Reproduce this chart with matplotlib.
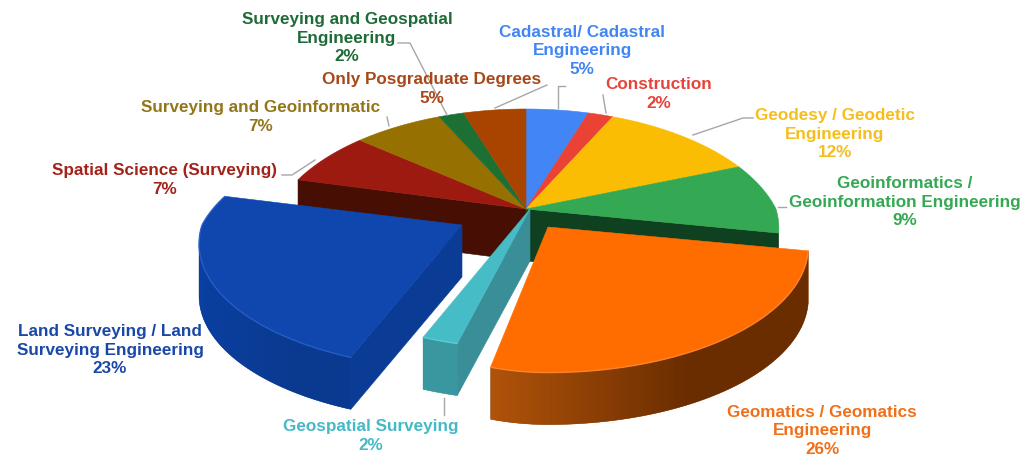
import numpy as np
import matplotlib
matplotlib.use("Agg")
import matplotlib.pyplot as plt
from matplotlib.patches import Polygon
from matplotlib.colors import to_rgb

# ---- data ----
categories = ["Cadastral/ Cadastral\nEngineering", "Construction", "Geodesy / Geodetic\nEngineering",
              "Geoinformatics /\nGeoinformation Engineering", "Geomatics / Geomatics\nEngineering",
              "Geospatial Surveying", "Land Surveying / Land\nSurveying Engineering",
              "Spatial Science (Surveying)", "Surveying and Geoinformatic",
              "Surveying and Geospatial\nEngineering", "Only Posgraduate Degrees"]
values = [5, 2, 12, 9, 26, 2, 23, 7, 7, 2, 5]

# ---- style ----
top_colors = ["#4285F4", "#EA4335", "#FBBC04", "#34A853", "#FF6D01", "#46BDC6",
              "#0F47AE", "#9C1A10", "#967000", "#1D7034", "#A84300"]
text_colors = ["#4285F4", "#E5443A", "#F5BE1E", "#34A853", "#F0701A", "#46B9C6",
               "#1A48A8", "#A3231A", "#94761A", "#1F6B38", "#A8481A"]
label_pos = [(582, 51), (659, 94), (835, 134), (905, 202), (822, 431), (371, 436),
             (110, 350), (165, 180), (261, 117), (347, 38), (432, 89)]
leaders = [[(565, 86), (558, 86), (558, 108)], [(603, 95), (606, 113)],
           [(753, 118), (743, 118), (693, 135)], [(778, 207), (786, 207)],
           [(444, 398), (444, 415)], [(282, 175), (292, 175), (315, 160)],
           [(387, 117), (389, 126)], [(398, 43), (410, 43), (447, 115)],
           [(547, 85), (495, 108)]]
# exploded slices: apex, x-scales (right, left of apex), y-scale, rim colours, wall, highlight
exploded = {4: dict(apex=(548, 227), sx=1.03, sxl=0.79, sy=0.99, rim=("#B0530A", "#6A2D00"), wall="#8A3D00", hi="#FF8A33"),
            5: dict(apex=(530, 209), sx=1.0, sxl=1.0, sy=0.95, rim=("#3A97A0", "#3A97A0"), wall="#3A8E98", hi="#5CD0DA"),
            6: dict(apex=(462, 225), sx=1.0, sxl=1.04, sy=0.98, rim=("#0B3FA0", "#0A3A90"), wall="#0A3C96", hi="#2A62C8")}
CENTER = (526, 209)
RX, RY, K_BACK, K_FRONT, DEPTH = 250, 125, 0.25, 0.15, 52


def project(theta, apex=CENTER, sx=1.0, sxl=1.0, sy=1.0):
    X, Z = np.sin(theta), np.cos(theta)
    s = np.where(Z > 0, 1 / (1 + K_BACK * Z), 1 / (1 + K_FRONT * Z))
    return apex[0] + RX * X * s * np.where(X > 0, sx, sxl), apex[1] - RY * Z * s * sy


plt.rcParams["font.family"] = ["Liberation Sans", "DejaVu Sans"]
fig = plt.figure(figsize=(10.28, 4.58), dpi=100)
ax = fig.add_axes([0, 0, 1, 1])
ax.set_xlim(0, 1028)
ax.set_ylim(458, 0)
ax.axis("off")

edges = np.cumsum([0] + values) / sum(values) * 2 * np.pi


def top(i, apex=CENTER, sx=1.0, sxl=1.0, sy=1.0, z=2):
    th = np.linspace(edges[i], edges[i + 1], 60)
    x, y = project(th, apex, sx, sxl, sy)
    pts = np.column_stack([np.r_[apex[0], x], np.r_[apex[1], y]])
    ax.add_patch(Polygon(pts, closed=True, fc=top_colors[i], ec=top_colors[i], lw=0.4, zorder=z))


def wall(theta, apex, color, z, sx=1.0, sxl=1.0, sy=1.0):
    x, y = project(np.array(theta), apex, sx, sxl, sy)
    pts = [apex, (x, y), (x, y + DEPTH), (apex[0], apex[1] + DEPTH)]
    ax.add_patch(Polygon(pts, closed=True, fc=color, ec=color, lw=0.4, zorder=z))


# walls of the pie body seen through the gaps
wall(edges[7], CENTER, "#470F04", 1)
wall(edges[4], CENTER, "#0F4020", 1)

for i in range(len(values)):
    if i not in exploded:
        top(i)

for n, i in enumerate([5, 6, 4]):
    e = exploded[i]
    z = 5 + n * 3
    th = np.linspace(edges[i], edges[i + 1], 90)
    x, y = project(th, e["apex"], e["sx"], e["sxl"], e["sy"])
    c1, c2 = np.array(to_rgb(e["rim"][0])), np.array(to_rgb(e["rim"][1]))
    # only the x-monotone part of the arc shows a rim
    lo, hi = sorted((int(np.argmin(x)), int(np.argmax(x))))
    rx_, ry_ = x[lo:hi + 1], y[lo:hi + 1]
    xmin, xmax = rx_.min(), rx_.max()
    rim_pts = np.vstack([np.column_stack([rx_, ry_]), np.column_stack([rx_, ry_ + DEPTH])[::-1]])
    base = Polygon(rim_pts, closed=True, fc=tuple((c1 + c2) / 2), ec=tuple((c1 + c2) / 2), lw=0.3, zorder=z)
    ax.add_patch(base)
    ramp = np.minimum(1, np.linspace(0, 1, 128)[None, :] * 1.6)
    rgb = c1[None, None, :] + (c2 - c1)[None, None, :] * ramp[:, :, None]
    im = ax.imshow(rgb, extent=(xmin, xmax, ry_.max() + DEPTH, ry_.min()), aspect="auto", zorder=z + 0.1,
                   interpolation="bilinear")
    im.set_clip_path(base)
    ax.set_xlim(0, 1028)
    ax.set_ylim(458, 0)
    if i in (5, 6):
        wall(edges[i], e["apex"], e["wall"], z + 1, e["sx"], e["sxl"], e["sy"])
    top(i, e["apex"], e["sx"], e["sxl"], e["sy"], z=z + 1.5)
    ax.plot(x, y, color=e["hi"], lw=1.0, alpha=0.8, zorder=z + 2, solid_capstyle="round")

for name, v, c, (lx, ly) in zip(categories, values, text_colors, label_pos):
    ax.text(lx, ly, f"{name}\n{v}%", color=c, fontsize=12.3, fontweight="bold", ha="center", va="center",
            linespacing=1.33, zorder=20)

for pts in leaders:
    xs, ys = zip(*pts)
    ax.plot(xs, ys, color="#A6A6A6", lw=1.0, zorder=15)

fig.savefig("out.png", dpi=100, facecolor="white")
